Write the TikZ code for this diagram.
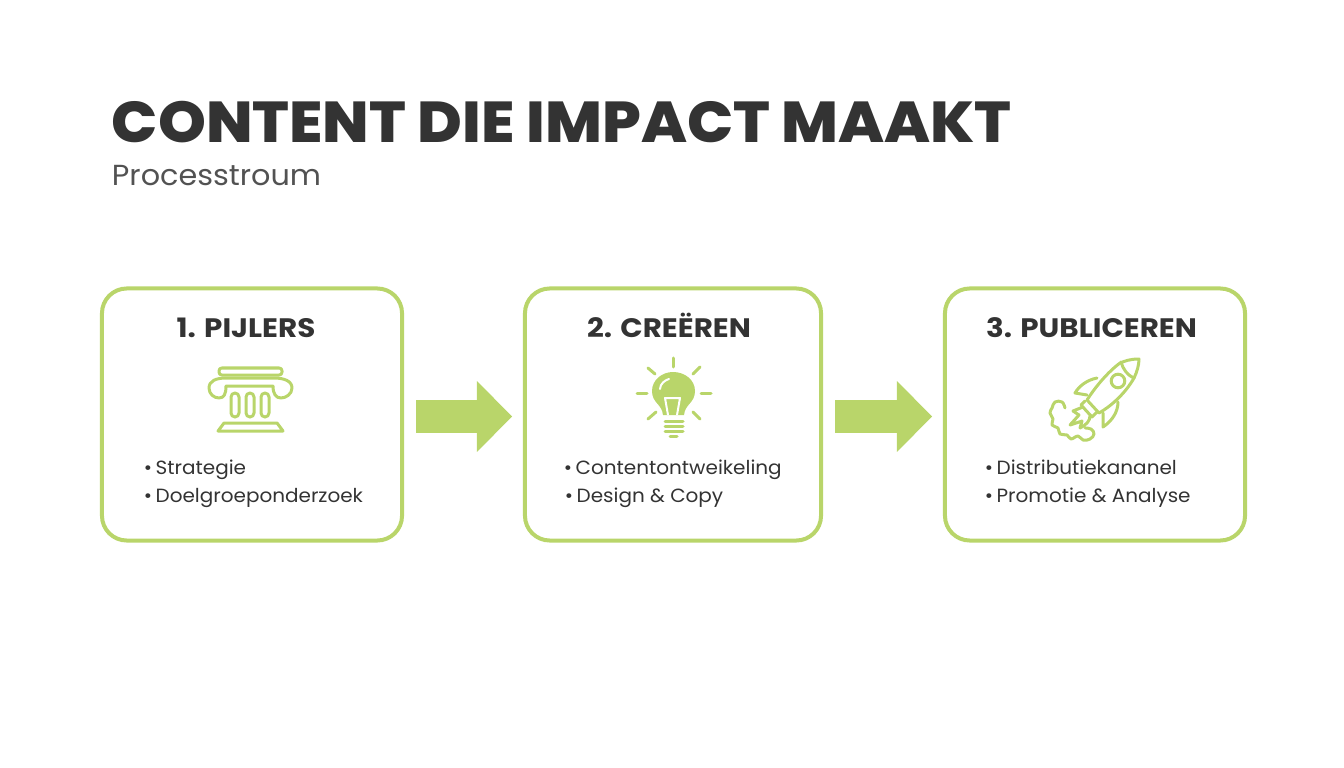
\documentclass[tikz,border=0pt]{standalone}
\usepackage{fontspec}
\setmainfont{Poppins}
\newfontfamily\wideheavy[FakeStretch=1.057]{Poppins ExtraBold}
\newfontfamily\widebold[FakeStretch=1.1]{Poppins}
\newfontfamily\widetext[FakeStretch=1.045]{Poppins}
\usetikzlibrary{arrows.meta}
\definecolor{lime}{HTML}{B9D56A}
\definecolor{ink}{HTML}{333333}
\tikzset{
  stepbox/.style={shape=rectangle, draw=lime, line width=0.1cm, rounded corners=0.62cm, minimum width=7.5cm, minimum height=6.3cm},
  flow/.style={-{Triangle[length=0.88cm,width=1.72cm]}, draw=lime, line width=0.82cm, shorten <=0.3cm, shorten >=0.27cm},
  boxtitle/.style={anchor=base, text=ink, font=\widebold\fontsize{19}{20}\selectfont\bfseries},
  bullet/.style={anchor=base west, text=ink, font=\widetext\fontsize{13.6}{16}\selectfont},
  icon/.style={draw=lime, line width=0.075cm, line cap=round, line join=round},
}
\begin{document}
\begin{tikzpicture}[x=0.025cm, y=-0.025cm]
\useasboundingbox (0,0) rectangle (1344,768);

\node[anchor=base west, text=ink, font=\wideheavy\fontsize{41}{44}\selectfont] (title) at (107,143){CONTENT DIE IMPACT MAAKT};
\node[anchor=base west, text=ink!85, font=\widetext\fontsize{20.6}{24}\selectfont] (subtitle) at (107,186){Processtroum};

\node[stepbox, minimum width=7.5cm] (pijlers) at (252,414.5){};
\node[stepbox, minimum width=7.4cm] (creeren) at (673,414.5){};
\node[stepbox, minimum width=7.5cm] (publiceren) at (1095,414.5){};

\draw[flow] ([yshift=-0.05cm]pijlers.east) -- ([yshift=-0.05cm]creeren.west);
\draw[flow] ([yshift=-0.05cm]creeren.east) -- ([yshift=-0.05cm]publiceren.west);

\node[boxtitle] (t1) at (246,337){1. PIJLERS};
\node[boxtitle] (t2) at (669,337){2. CREËREN};
\node[boxtitle] (t3) at (1091.5,337){3. PUBLICEREN};

\node[bullet] (b11) at (139,474){•\hspace{0.18em}Strategie};
\node[bullet] (b12) at (139,502){•\hspace{0.18em}Doelgroeponderzoek};
\node[bullet] (b21) at (559,474){•\hspace{0.18em}Contentontweikeling};
\node[bullet] (b22) at (560,502){•\hspace{0.18em}Design \& Copy};
\node[bullet] (b31) at (980,474){•\hspace{0.18em}Distributiekananel};
\node[bullet] (b32) at (980,502){•\hspace{0.18em}Promotie \& Analyse};

% pillar
\draw[icon, rounded corners=0.07cm] (219,368) rectangle (282,375);
\draw[icon] (226,378) -- (274,378) .. controls (284,378) and (292,381) .. (292,388) .. controls (292,394) and (286,398) .. (281,398) .. controls (276,398) and (273,394) .. (273,386) -- (226,386) .. controls (226,394) and (224,398) .. (219,398) .. controls (214,398) and (209,394) .. (209,388) .. controls (209,381) and (216,378) .. (226,378);
\foreach \x in {235,250,265}
  \draw[icon, rounded corners=0.1cm] (\x-4,393) rectangle (\x+4,417);
\draw[icon] (224,423) -- (277,423) -- (283,431) -- (218,431) -- cycle;

% bulb
\fill[lime] (663,415) .. controls (662,404) and (652,403) .. (652,391) .. controls (652,380) and (662,372) .. (673,372) .. controls (685,372) and (695,380) .. (695,391) .. controls (695,403) and (685,404) .. (684,415) -- cycle;
\draw[white, line width=0.05cm, line cap=round] (660,389) .. controls (660,384) and (665,380) .. (669,379);
\draw[white, line width=0.05cm, line join=round] (668,415) -- (665,398) -- (680,398) -- (677,415);
\draw[icon] (665,421) -- (683,421);
\draw[icon] (665,426) -- (683,426);
\draw[icon] (665,431) -- (683,431);
\draw[icon] (670,436) -- (677,436);
\draw[icon] (673,358) -- (673,367);
\draw[icon] (637,393) -- (647,393);
\draw[icon] (701,393) -- (711,393);
\draw[icon] (648,368) -- (655,374);
\draw[icon] (700,367) -- (693,374);
\draw[icon] (656,412) -- (648,419);
\draw[icon] (693,412) -- (700,419);

% rocket
\draw[icon] (1139,359) .. controls (1130,359) and (1125,361) .. (1120,363) .. controls (1108,372) and (1096,386) .. (1087,400) -- (1099,413) .. controls (1113,405) and (1126,392) .. (1134,378) .. controls (1137,372) and (1139,365) .. (1139,359) -- cycle;
\draw[icon] (1121,362) .. controls (1123,369) and (1127,375) .. (1134,378);
\draw[icon] (1118,381) circle (0.17cm);
\draw[icon] (1097,378) .. controls (1087,380) and (1079,386) .. (1075,393) -- (1087,395);
\draw[icon] (1118,402) .. controls (1118,412) and (1112,421) .. (1103,427) -- (1103,413);
\draw[icon] (1085,401) -- (1081,405) -- (1092,417) -- (1097,412);
\draw[icon] (1083,407) -- (1073,411) -- (1079,415) -- (1070,425) -- (1082,421) -- (1080,428) .. controls (1086,425) and (1090,421) .. (1090,416);
\draw[icon] plot[smooth, tension=0.7] coordinates {(1065,408) (1062,402) (1055,402) (1052,408) (1050,413) (1053,419) (1052,425) (1058,428) (1060,434) (1067,435) (1071,439) (1078,436) (1083,440) (1090,439) (1094,434) (1091,429) (1085,428)};
\end{tikzpicture}
\end{document}
